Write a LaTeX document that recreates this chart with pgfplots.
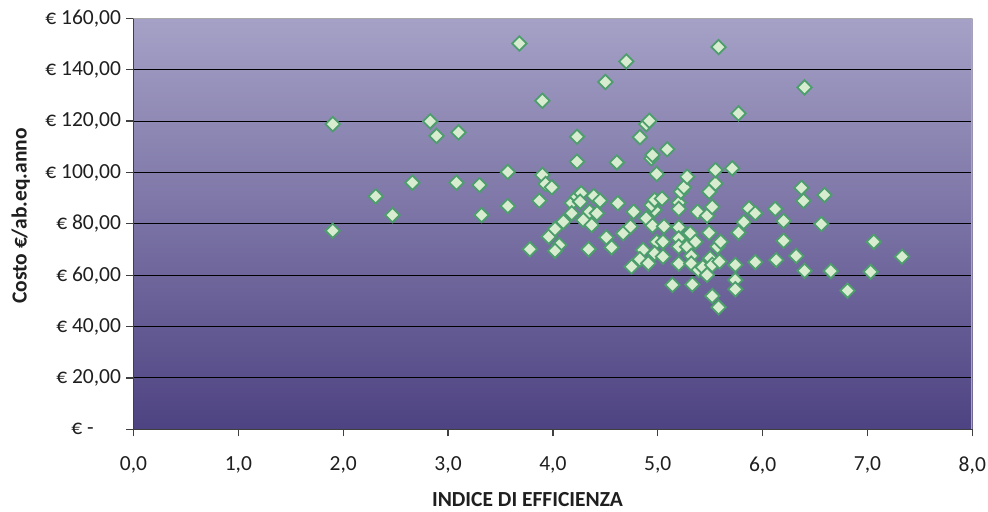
\documentclass[border=0pt]{standalone}
\usepackage{fontspec}
\setmainfont{Carlito}
\usepackage{pgfplots}
\pgfplotsset{compat=1.18}
\definecolor{bgtop}{RGB}{165,161,198}
\definecolor{bgbot}{RGB}{78,67,130}
\definecolor{mkedge}{RGB}{76,158,108}
\definecolor{mkfill}{RGB}{216,236,208}
\definecolor{spine}{RGB}{64,64,64}
\definecolor{border}{RGB}{170,170,170}
\begin{document}
\begin{tikzpicture}
\begin{axis}[
  scale only axis, width=838.8pt, height=411pt,
  xmin=0, xmax=8, ymin=0, ymax=160,
  xtick={0,1,2,3,4,5,6,7,8},
  ytick={0,20,40,60,80,100,120,140,160},
  xticklabels={{0,0},{1,0},{2,0},{3,0},{4,0},{5,0},{6,0},{7,0},{8,0}},
  yticklabels={{€ -\phantom{,00}},{€ 20,00},{€ 40,00},{€ 60,00},{€ 80,00},{€ 100,00},{€ 120,00},{€ 140,00},{€ 160,00}},
  axis background/.style={top color=bgtop, bottom color=bgbot},
  ymajorgrids, grid style={black, line width=1pt},
  axis x line*=bottom, axis y line*=left,
  axis line style={spine, line width=1.5pt, -},
  tick align=outside, major tick length=7pt,
  tick style={spine, line width=1.2pt},
  ticklabel style={font=\fontsize{21.5}{25}\selectfont, text=black!88},
  xticklabel style={yshift=-17pt},
  yticklabel style={xshift=-2pt},
  xlabel={INDICE DI EFFICIENZA},
  ylabel={Costo €/ab.eq.anno},
  every axis x label/.style={at={(rel axis cs:0.5,0)}, xshift=-25.4pt, yshift=-77.5pt, anchor=base, font=\fontsize{21.5}{25}\selectfont\bfseries, text=black!88},
  every axis y label/.style={at={(rel axis cs:0,0.5)}, xshift=-106.8pt, yshift=7.8pt, rotate=90, anchor=base, font=\fontsize{21.5}{25}\selectfont\bfseries, text=black!88},
]
\addplot[only marks, mark=square*, mark size=5.1pt,
  mark options={rotate=45, fill=mkfill, draw=mkedge, line width=1.8pt}]
table {
x y
1.90 118.8
1.90 77.3
2.31 90.7
2.47 83.4
2.66 96.0
2.83 119.9
2.89 114.2
3.10 115.6
3.08 96.0
3.30 95.1
3.32 83.4
3.57 100.2
3.57 86.9
3.68 150.2
3.78 70.1
3.90 127.9
3.90 99.0
3.87 89.0
3.93 95.5
3.99 94.2
3.96 75.0
4.06 71.7
4.02 69.5
4.02 78.0
4.10 80.8
4.18 88.1
4.23 90.5
4.27 91.9
4.26 88.6
4.18 84.1
4.29 81.5
4.23 113.9
4.23 104.2
4.34 70.1
4.35 84.7
4.42 84.1
4.39 90.8
4.45 89.0
4.37 79.5
4.50 135.2
4.51 74.7
4.56 70.8
4.61 103.9
4.62 88.0
4.67 76.3
4.70 143.2
4.74 78.9
4.75 63.3
4.77 84.7
4.83 113.7
4.86 69.8
4.83 66.2
4.91 64.6
4.89 118.8
4.92 120.1
4.89 82.1
4.95 79.3
4.94 105.5
4.95 106.8
4.97 85.4
4.94 87.3
4.97 89.3
4.99 99.4
4.99 73.0
4.97 68.5
5.04 89.8
5.05 73.0
5.05 67.2
5.06 79.0
5.09 109.0
5.14 56.2
5.20 88.2
5.20 85.8
5.20 78.6
5.20 74.3
5.20 71.1
5.20 64.5
5.22 92.5
5.25 94.2
5.28 98.3
5.28 71.1
5.31 76.3
5.32 67.5
5.32 64.5
5.33 56.4
5.36 73.0
5.38 84.7
5.39 62.0
5.43 63.1
5.47 83.1
5.47 60.1
5.49 92.5
5.49 76.5
5.50 66.6
5.52 86.6
5.52 64.0
5.52 51.9
5.55 95.7
5.55 100.9
5.57 71.1
5.58 47.5
5.58 148.8
5.59 65.3
5.60 73.0
5.71 101.6
5.74 64.0
5.74 58.1
5.74 54.5
5.77 123.0
5.77 76.6
5.82 80.7
5.87 86.0
5.93 84.1
5.93 65.1
6.12 85.8
6.13 65.9
6.20 81.1
6.20 73.4
6.32 67.5
6.37 94.0
6.39 88.9
6.40 133.1
6.40 61.7
6.56 79.9
6.59 91.2
6.65 61.6
6.81 54.0
7.03 61.3
7.06 73.0
7.33 67.2
};
\draw[border, line width=2pt] (rel axis cs:0,1) -- (rel axis cs:1,1) -- (rel axis cs:1,0);
\coordinate (sw) at (rel axis cs:0,0);
\coordinate (ne) at (rel axis cs:1,1);
\end{axis}
\pgfresetboundingbox
\path[use as bounding box] ([shift={(-133.5pt,-81.7pt)}]sw) rectangle ([shift={(15.7pt,18.3pt)}]ne);
\end{tikzpicture}
\end{document}
